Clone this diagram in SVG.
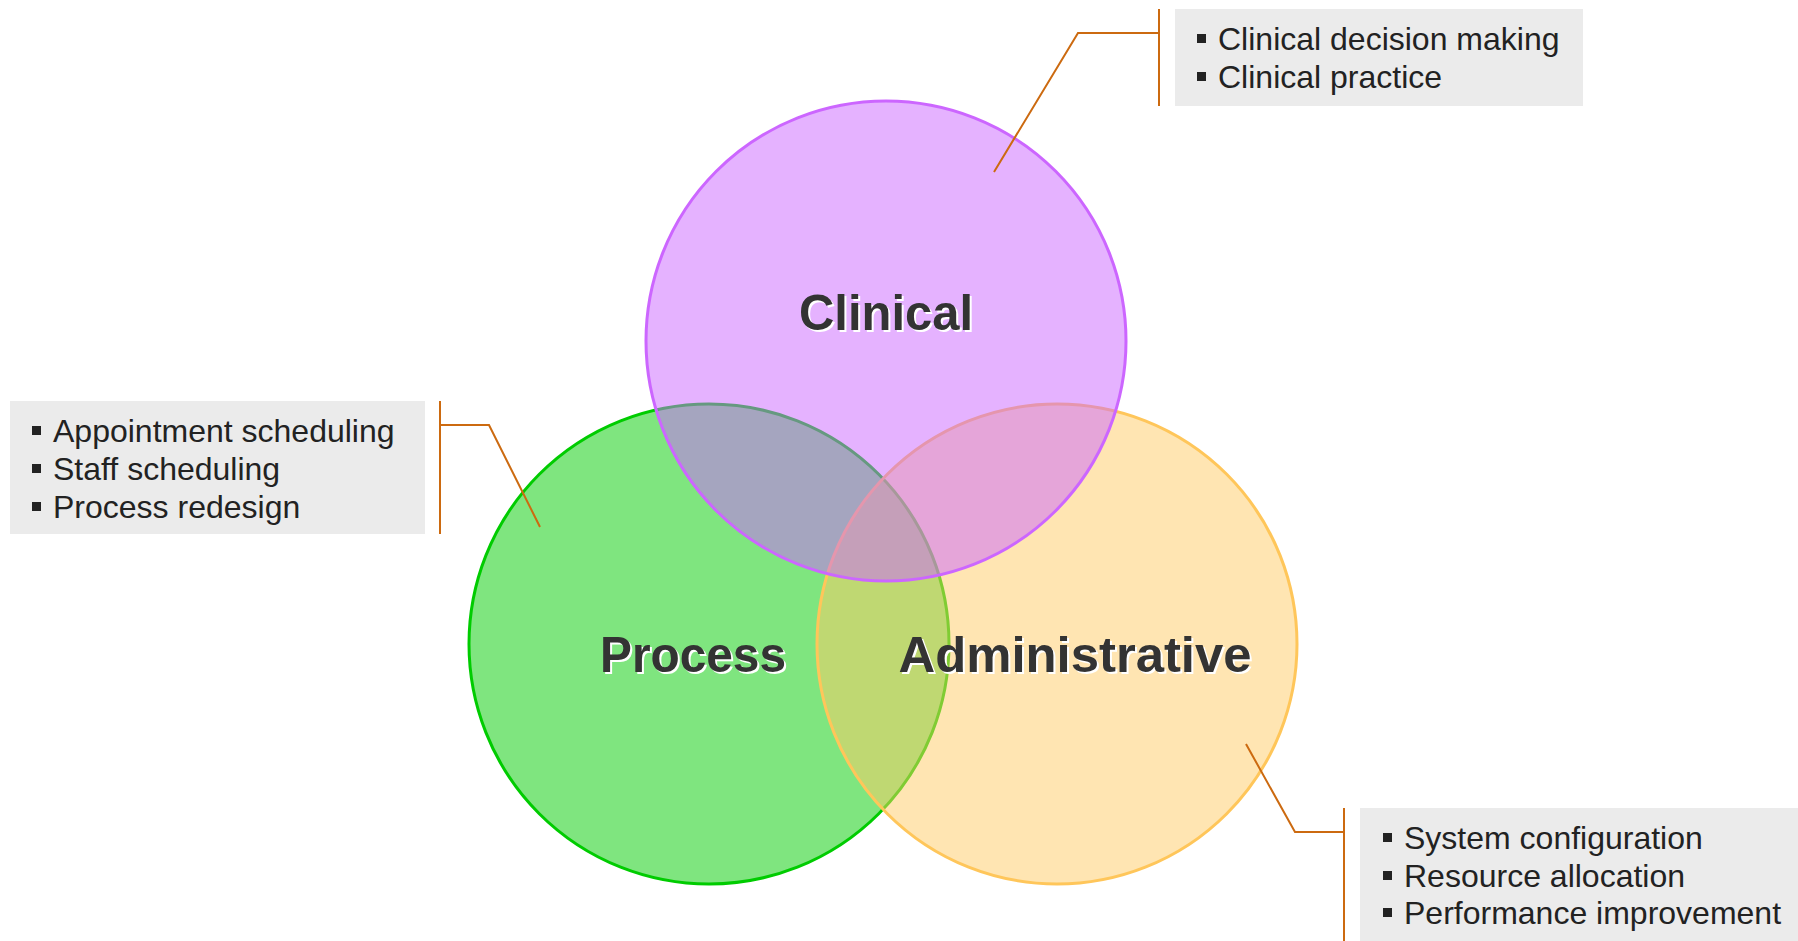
<svg xmlns="http://www.w3.org/2000/svg" width="1798" height="941" viewBox="0 0 1798 941">
<style>
.circle{stroke-width:3}
.label{font-family:"Liberation Sans",Arial,sans-serif;font-weight:bold;font-size:50px;text-anchor:middle}
.shadow{fill:#ffffff}
.ink{fill:#333333}
.box{fill:#ebebeb}
.item{font-family:"Liberation Sans",Arial,sans-serif;font-size:32px;fill:#222222}
.bullet{fill:#222222}
.lead{fill:none;stroke:#cc6a10;stroke-width:2}
</style>
<rect width="1798" height="941" fill="#ffffff"/>
<g id="process">
<circle class="circle" cx="709" cy="644" r="240" fill="#00cc00" fill-opacity="0.5" stroke="#00cc00"/>
</g>
<g id="administrative">
<circle class="circle" cx="1057" cy="644" r="240" fill="#ffcc66" fill-opacity="0.5" stroke="#ffc65a"/>
</g>
<g id="clinical">
<circle class="circle" cx="886" cy="341" r="240" fill="#cc66ff" fill-opacity="0.5" stroke="#cc66ff"/>
</g>
<g id="labels">
<text class="label shadow" x="888" y="332" textLength="174" lengthAdjust="spacingAndGlyphs">Clinical</text>
<text class="label ink" x="886" y="330" textLength="174" lengthAdjust="spacingAndGlyphs">Clinical</text>
<text class="label shadow" x="695" y="674" textLength="186" lengthAdjust="spacingAndGlyphs">Process</text>
<text class="label ink" x="693" y="672" textLength="186" lengthAdjust="spacingAndGlyphs">Process</text>
<text class="label shadow" x="1077" y="674" textLength="353" lengthAdjust="spacingAndGlyphs">Administrative</text>
<text class="label ink" x="1075" y="672" textLength="353" lengthAdjust="spacingAndGlyphs">Administrative</text>
</g>
<g id="connectors">
<polyline class="lead" points="994,172 1078,33 1159,33"/>
<line class="lead" x1="1159" y1="9" x2="1159" y2="106"/>
<polyline class="lead" points="540,527 489,425 440,425"/>
<line class="lead" x1="440" y1="401" x2="440" y2="534"/>
<polyline class="lead" points="1246,744 1295,832 1344,832"/>
<line class="lead" x1="1344" y1="808" x2="1344" y2="941"/>
</g>
<g id="clinical-notes">
<rect class="box" x="1175" y="9" width="408" height="97"/>
<rect class="bullet" x="1197" y="34" width="9" height="9"/>
<text class="item" x="1218" y="50">Clinical decision making</text>
<rect class="bullet" x="1197" y="72" width="9" height="9"/>
<text class="item" x="1218" y="88">Clinical practice</text>
</g>
<g id="process-notes">
<rect class="box" x="10" y="401" width="415" height="133"/>
<rect class="bullet" x="32" y="426" width="9" height="9"/>
<text class="item" x="53" y="442">Appointment scheduling</text>
<rect class="bullet" x="32" y="464" width="9" height="9"/>
<text class="item" x="53" y="480">Staff scheduling</text>
<rect class="bullet" x="32" y="502" width="9" height="9"/>
<text class="item" x="53" y="518">Process redesign</text>
</g>
<g id="administrative-notes">
<rect class="box" x="1360" y="808" width="438" height="133"/>
<rect class="bullet" x="1383" y="833" width="9" height="9"/>
<text class="item" x="1404" y="849">System configuration</text>
<rect class="bullet" x="1383" y="871" width="9" height="9"/>
<text class="item" x="1404" y="887">Resource allocation</text>
<rect class="bullet" x="1383" y="908" width="9" height="9"/>
<text class="item" x="1404" y="924">Performance improvement</text>
</g>
</svg>
